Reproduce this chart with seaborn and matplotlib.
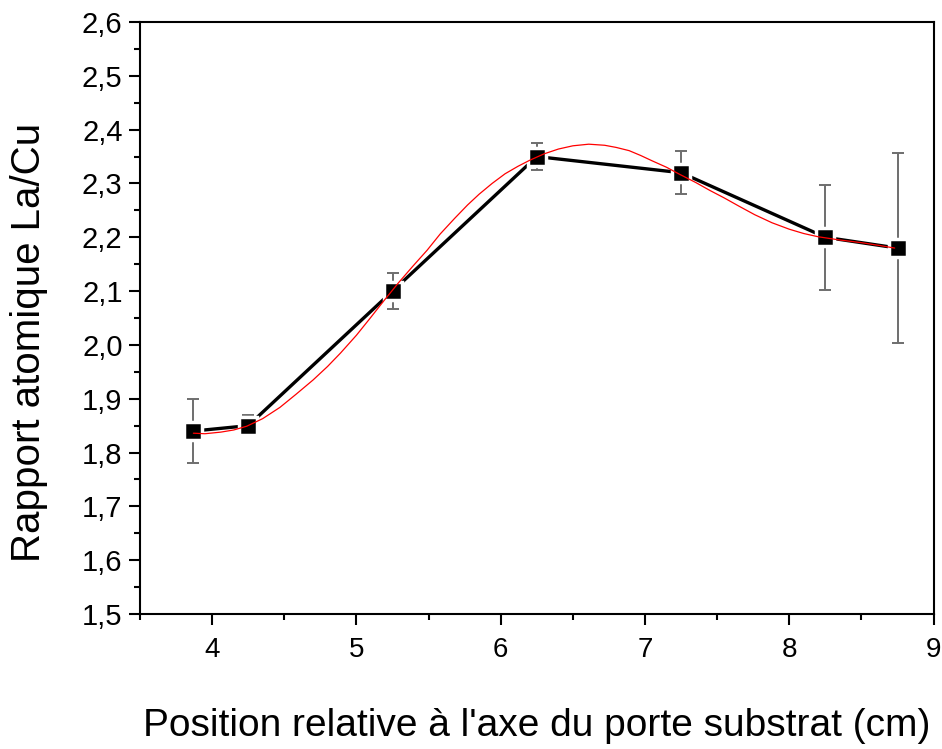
import numpy as np
import pandas as pd
import matplotlib
matplotlib.use("Agg")
import matplotlib.pyplot as plt
import seaborn as sns
from matplotlib.ticker import MultipleLocator, FuncFormatter

# measured points
position = [3.87, 4.25, 5.25, 6.25, 7.25, 8.25, 8.75]
ratio = [1.84, 1.85, 2.10, 2.35, 2.32, 2.20, 2.18]
err_low = [0.06, 0.02, 0.033, 0.025, 0.04, 0.098, 0.176]
err_high = [0.06, 0.02, 0.033, 0.025, 0.04, 0.098, 0.176]

# fitted curve
fit_x = [3.87, 3.95, 4.06, 4.15, 4.24, 4.35, 4.47, 4.58, 4.70, 4.80, 4.89,
         5.00, 5.09, 5.19, 5.29, 5.39, 5.49, 5.58, 5.68, 5.77, 5.85, 5.94,
         6.03, 6.12, 6.20, 6.30, 6.40, 6.50, 6.61, 6.72, 6.80, 6.89, 6.97,
         7.05, 7.15, 7.24, 7.35, 7.45, 7.55, 7.65, 7.76, 7.88, 8.00, 8.10,
         8.20, 8.35, 8.50, 8.62, 8.73]
fit_y = [1.836, 1.835, 1.838, 1.842, 1.849, 1.863, 1.884, 1.908, 1.935, 1.960,
         1.985, 2.018, 2.048, 2.082, 2.115, 2.146, 2.176, 2.206, 2.235, 2.260,
         2.280, 2.300, 2.318, 2.332, 2.343, 2.355, 2.364, 2.370, 2.373, 2.371,
         2.367, 2.361, 2.352, 2.342, 2.330, 2.317, 2.302, 2.287, 2.273, 2.258,
         2.242, 2.227, 2.215, 2.207, 2.201, 2.195, 2.190, 2.185, 2.180]

df = pd.DataFrame({"pos": position, "ratio": ratio})
fit = pd.DataFrame({"x": fit_x, "y": fit_y})

sns.set_theme(style="white")
plt.rcParams['font.family'] = ['Liberation Sans', 'DejaVu Sans']
plt.rcParams['text.color'] = 'black'
plt.rcParams['axes.labelcolor'] = 'black'

fig = plt.figure(figsize=(9.42, 7.49), dpi=100)
ax = fig.add_axes([0.1486, 0.1802, 0.8425, 0.7904])

sns.lineplot(data=df, x="pos", y="ratio", ax=ax, color="black", linewidth=2.4,
             zorder=2)
ax.errorbar(position, ratio, yerr=[err_low, err_high], fmt="none",
            ecolor="#6e6e6e", elinewidth=1.4, capsize=4.5, capthick=1.4, zorder=3)
ax.plot(position, ratio, linestyle="none", marker="s", markersize=12.5,
        markerfacecolor="black", markeredgecolor="white", markeredgewidth=2.5,
        zorder=4)
sns.lineplot(data=fit, x="x", y="y", ax=ax, color="red", linewidth=0.9,
             sort=False, zorder=5)

ax.set_xlim(3.5, 9)
ax.set_ylim(1.5, 2.6)
ax.xaxis.set_major_locator(MultipleLocator(1))
ax.xaxis.set_minor_locator(MultipleLocator(0.5))
ax.yaxis.set_major_locator(MultipleLocator(0.1))
ax.yaxis.set_minor_locator(MultipleLocator(0.05))
ax.yaxis.set_major_formatter(FuncFormatter(lambda v, p: f"{v:.1f}".replace(".", ",")))

ax.tick_params(which="both", direction="out", left=True, bottom=True,
               top=False, right=False, colors="black", width=1.5)
ax.tick_params(which="major", length=8, labelsize=21)
ax.tick_params(which="minor", length=4.3)
ax.tick_params(axis="x", which="major", pad=8.5, labelsize=20)
ax.tick_params(axis="y", which="major", pad=4.5)
for s in ax.spines.values():
    s.set_visible(True)
    s.set_color("black")
    s.set_linewidth(1.5)

ax.set_xlabel("Position relative à l'axe du porte substrat (cm)", fontsize=28)
ax.set_ylabel("Rapport atomique La/Cu", fontsize=29)
ax.xaxis.set_label_coords(0.5, -0.1588)
ax.yaxis.set_label_coords(-0.1156, 0.459)

fig.savefig("out.png", dpi=100)
